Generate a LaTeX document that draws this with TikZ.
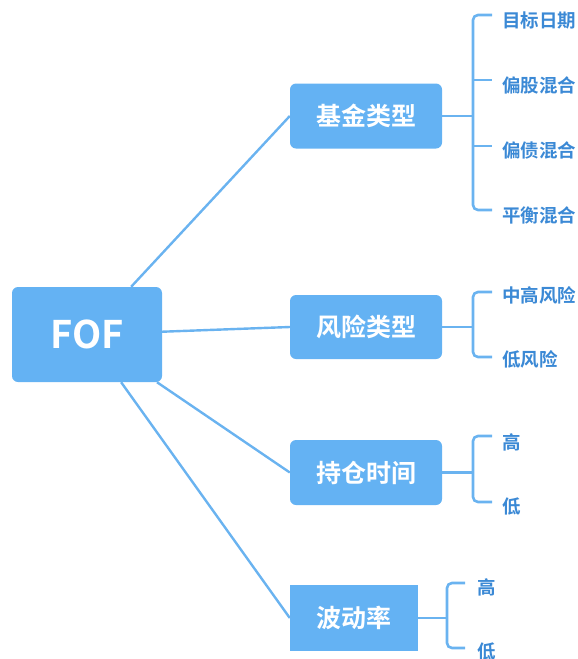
\documentclass[tikz,border=0pt]{standalone}
\usepackage{fontspec}
\setmainfont{Noto Sans CJK SC}[BoldFont={Noto Sans CJK SC Bold}]
\definecolor{nodeblue}{HTML}{64B2F3}
\definecolor{lineblue}{HTML}{6AB3F0}
\definecolor{labelblue}{HTML}{3B89D5}
\tikzset{
  box/.style={fill=nodeblue, text=white, inner sep=0pt, rounded corners=6pt,
    minimum width=152pt, minimum height=65pt,
    font=\fontsize{25pt}{25pt}\selectfont\bfseries},
  link/.style={draw=lineblue, line width=2.4pt},
  brace/.style={draw=lineblue, line width=2.6pt, rounded corners=5pt},
  leaf/.style={text=labelblue, inner sep=0pt, anchor=west,
    font=\fontsize{18.5pt}{18.5pt}\selectfont\bfseries}
}
\begin{document}
\begin{tikzpicture}[x=1pt,y=-1pt]
\useasboundingbox (0,0) rectangle (578,659);

% root and children
\node[box, minimum width=150pt, minimum height=95pt,
  font=\fontsize{38pt}{38pt}\selectfont\bfseries] (fof) at (87,334.5) {FOF};
\node[box] (jj) at (366,116) {基金类型};
\node[box, minimum height=64pt] (fx) at (366,327) {风险类型};
\node[box] (cc) at (366,472.5) {持仓时间};
\node[box, rounded corners=0pt, minimum width=128pt, minimum height=66pt] (bd) at (354,618) {波动率};

\draw[link] (fof) -- (jj.west);
\draw[link] (fof) -- (fx.west);
\draw[link] (fof) -- (cc.west);
\draw[link] (fof) -- (bd.west);

% bracket 1
\coordinate (j0) at (473,116);
\coordinate (j1) at (492,15);
\coordinate (j2) at (492,80);
\coordinate (j3) at (492,146);
\coordinate (j4) at (492,210);
\draw[link] (jj.east) -- (j0);
\draw[brace] (j1) -- (473,15) -- (473,210) -- (j4);
\draw[brace] (473,80) -- (j2);
\draw[brace] (473,146) -- (j3);
\node[leaf] (j1t) at (502,20) {目标日期};
\node[leaf] (j2t) at (502,85) {偏股混合};
\node[leaf] (j3t) at (502,150) {偏债混合};
\node[leaf] (j4t) at (502,215) {平衡混合};

% bracket 2
\coordinate (f0) at (473,327);
\coordinate (f1) at (492,292);
\coordinate (f2) at (492,357);
\draw[link] (fx.east) -- (f0);
\draw[brace] (f1) -- (473,292) -- (473,357) -- (f2);
\node[leaf] (f1t) at (502,295) {中高风险};
\node[leaf] (f2t) at (502,359) {低风险};

% bracket 3
\coordinate (c0) at (473,472.5);
\coordinate (c1) at (492,436);
\coordinate (c2) at (492,502);
\draw[link] (cc.east) -- (c0);
\draw[brace] (c1) -- (473,436) -- (473,502) -- (c2);
\node[leaf] (c1t) at (502,442) {高};
\node[leaf] (c2t) at (502,507) {低};

% bracket 4
\coordinate (b0) at (447,618);
\coordinate (b1) at (465,583);
\coordinate (b2) at (465,648);
\draw[link] (bd.east) -- (b0);
\draw[brace] (b1) -- (447,583) -- (447,648) -- (b2);
\node[leaf] (b1t) at (477,587) {高};
\node[leaf] (b2t) at (477,651) {低};
\end{tikzpicture}
\end{document}
